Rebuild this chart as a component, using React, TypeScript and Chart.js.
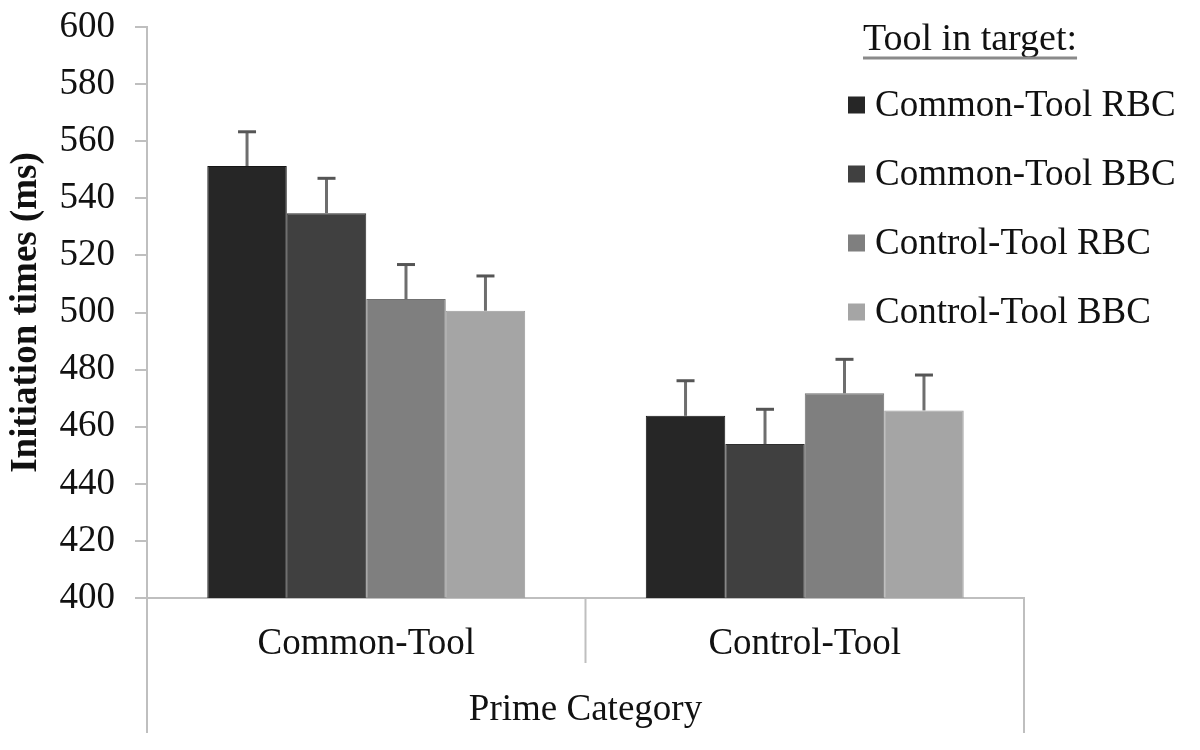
import React, { useEffect, useRef } from "react";
import { Chart, registerables } from "chart.js";

Chart.register(...registerables);

const categories = ["Common-Tool", "Control-Tool"];
const seriesNames = ["Common-Tool RBC", "Common-Tool BBC", "Control-Tool RBC", "Control-Tool BBC"];
const commonToolRBC = [551.3, 463.8];
const commonToolBBC = [534.8, 453.9];
const controlToolRBC = [504.7, 471.7];
const controlToolBBC = [500.6, 465.7];
const commonToolRBCErr = [12.0, 12.3];
const commonToolBBCErr = [12.2, 12.2];
const controlToolRBCErr = [12.1, 11.9];
const controlToolBBCErr = [12.2, 12.4];
const seriesColors = ["#262626", "#404040", "#7f7f7f", "#a5a5a5"];
const seriesBorders = ["#151515", "#2e2e2e", "#707070", "#9a9a9a"];
const yMin = 400;
const yMax = 600;
const yStep = 20;
const xTitle = "Prime Category";
const yTitle = "Initiation times (ms)";
const legendTitle = "Tool in target:";

const FONT = "'Liberation Serif', 'Times New Roman', serif";
const AXIS_GRAY = "#bfbfbf";

const errorBarPlugin = {
  id: "errorBars",
  afterDatasetsDraw(chart: any) {
    const ctx = chart.ctx;
    const yScale = chart.scales.y;
    chart.data.datasets.forEach((ds: any, i: number) => {
      const meta = chart.getDatasetMeta(i);
      meta.data.forEach((bar: any, j: number) => {
        const v = ds.data[j];
        const e = ds.errors[j];
        const yTop = yScale.getPixelForValue(v + e);
        const yBar = yScale.getPixelForValue(v);
        ctx.save();
        ctx.strokeStyle = "#6e6e6e";
        ctx.lineWidth = 3;
        ctx.beginPath();
        ctx.moveTo(bar.x, yBar);
        ctx.lineTo(bar.x, yTop);
        ctx.stroke();
        ctx.strokeStyle = "#555555";
        ctx.beginPath();
        ctx.moveTo(bar.x - 9, yTop);
        ctx.lineTo(bar.x + 9, yTop);
        ctx.stroke();
        ctx.restore();
      });
    });
  },
};

const categoryFramePlugin = {
  id: "categoryFrame",
  afterDraw(chart: any) {
    const ctx = chart.ctx;
    const x = chart.scales.x;
    const area = chart.chartArea;
    const n = chart.data.labels.length;
    const step = (x.right - x.left) / n;
    ctx.save();
    ctx.strokeStyle = AXIS_GRAY;
    ctx.lineWidth = 2;
    for (let i = 0; i <= n; i++) {
      const px = x.left + i * step;
      const outer = i === 0 || i === n;
      ctx.beginPath();
      ctx.moveTo(px, area.bottom);
      ctx.lineTo(px, outer ? area.bottom + 135 : area.bottom + 65);
      ctx.stroke();
    }
    ctx.restore();
  },
};

const legendPlugin = {
  id: "customLegend",
  afterDraw(chart: any) {
    const ctx = chart.ctx;
    ctx.save();
    ctx.font = `38px ${FONT}`;
    ctx.fillStyle = "#111";
    ctx.textBaseline = "alphabetic";
    ctx.textAlign = "left";
    const tx = 863;
    ctx.fillText(legendTitle, tx, 50);
    const w = ctx.measureText(legendTitle).width;
    ctx.strokeStyle = "#8a8a8a";
    ctx.lineWidth = 3;
    ctx.beginPath();
    ctx.moveTo(tx, 58);
    ctx.lineTo(tx + w, 58);
    ctx.stroke();
    ctx.font = `37px ${FONT}`;
    ctx.textBaseline = "middle";
    chart.data.datasets.forEach((ds: any, i: number) => {
      const cy = 105 + i * 69;
      ctx.fillStyle = ds.backgroundColor;
      ctx.fillRect(848, cy - 8.5, 17, 17);
      ctx.fillStyle = "#111";
      ctx.fillText(ds.label, 875, cy + 1);
    });
    ctx.restore();
  },
};

export default function App() {
  const ref = useRef<HTMLCanvasElement>(null);

  useEffect(() => {
    if (!ref.current) return;
    const values = [commonToolRBC, commonToolBBC, controlToolRBC, controlToolBBC];
    const errs = [commonToolRBCErr, commonToolBBCErr, controlToolRBCErr, controlToolBBCErr];
    const chart = new Chart(ref.current, {
      type: "bar",
      data: {
        labels: categories,
        datasets: seriesNames.map((name, i) => ({
          label: name,
          data: values[i],
          errors: errs[i],
          backgroundColor: seriesColors[i],
          borderColor: seriesBorders[i],
          borderWidth: 1,
          categoryPercentage: 0.725,
          barPercentage: 1.0,
        })) as any,
      },
      options: {
        animation: false,
        responsive: false,
        devicePixelRatio: 1,
        layout: { padding: { top: 27, right: 176, left: 0, bottom: 0 } },
        plugins: {
          legend: { display: false },
          tooltip: { enabled: false },
        },
        scales: {
          x: {
            type: "category",
            offset: true,
            grid: { display: true, drawOnChartArea: false, drawTicks: false, offset: true },
            border: { display: true, color: AXIS_GRAY, width: 2 },
            ticks: {
              color: "#111",
              font: { family: FONT, size: 37 },
              padding: 24,
              maxRotation: 0,
            },
            title: {
              display: true,
              text: xTitle,
              color: "#111",
              font: { family: FONT, size: 37 },
              padding: { top: 0, bottom: 18 },
            },
            afterFit: (scale: any) => {
              scale.height = 152;
              scale.paddingLeft = 0;
              scale.paddingRight = 0;
            },
          },
          y: {
            min: yMin,
            max: yMax,
            ticks: {
              stepSize: yStep,
              color: "#111",
              font: { family: FONT, size: 37 },
              padding: 20,
            },
            grid: { drawOnChartArea: false, drawTicks: true, tickLength: 12, color: AXIS_GRAY, lineWidth: 2 },
            border: { display: true, color: AXIS_GRAY, width: 2 },
            title: {
              display: true,
              text: yTitle,
              color: "#111",
              font: { family: FONT, size: 37, weight: "bold" },
              padding: { top: 4, bottom: 0 },
            },
            afterFit: (scale: any) => {
              scale.width = 147;
              scale.paddingTop = 0;
              scale.paddingBottom = 0;
            },
          },
        },
      },
      plugins: [errorBarPlugin, categoryFramePlugin, legendPlugin],
    });
    return () => chart.destroy();
  }, []);

  return (
    <div style={{ position: "fixed", left: 0, top: 0, width: 1200, height: 750, background: "#fff" }}>
      <canvas ref={ref} width={1200} height={750} style={{ display: "block" }} />
    </div>
  );
}
